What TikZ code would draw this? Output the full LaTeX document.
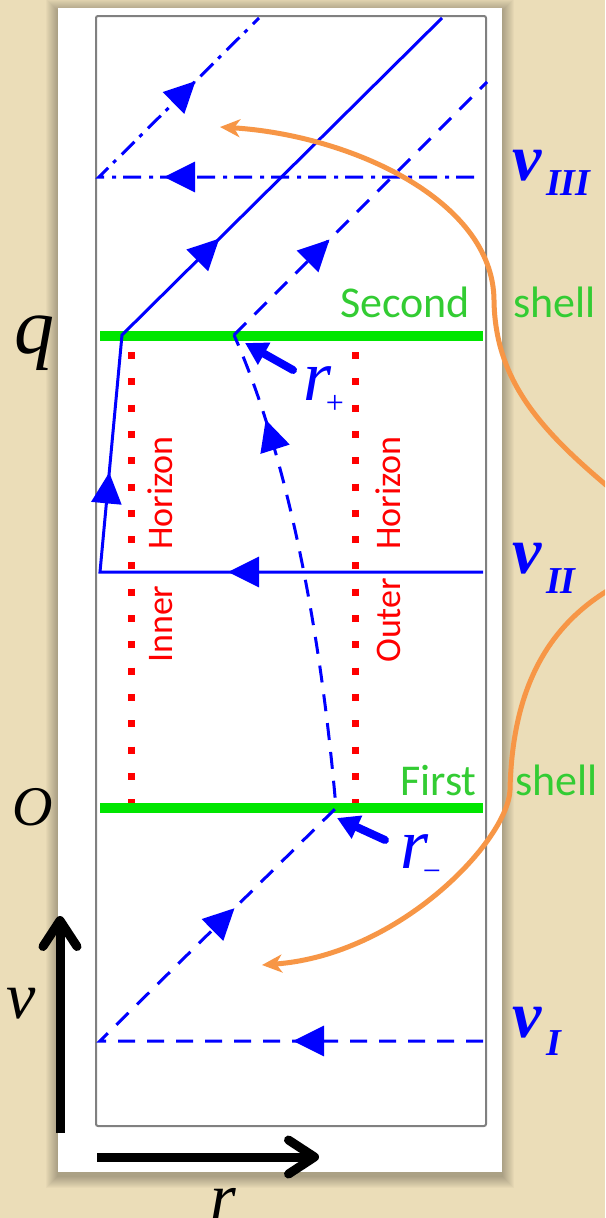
\documentclass[tikz,border=0pt]{standalone}
\usepackage{fontspec}
\setmainfont{Liberation Serif}
\newfontfamily\tnr{Liberation Serif}
\newfontfamily\carl{Carlito}
\usetikzlibrary{arrows.meta,decorations.markings}
\definecolor{parch}{RGB}{235,221,184}
\definecolor{bl}{RGB}{0,0,255}
\definecolor{gr}{RGB}{0,230,0}
\definecolor{grtext}{RGB}{51,204,51}
\definecolor{orng}{RGB}{247,150,70}
\definecolor{bord}{RGB}{128,128,128}
\tikzset{Tri/.tip={Triangle[length=31pt,width=30pt]}}
\begin{document}
\begin{tikzpicture}[x=1pt,y=-1pt,
  wl/.style={draw=bl, line width=3pt},
  dashl/.style={wl, dash pattern=on 17pt off 12pt},
  ddl/.style={wl, dash pattern=on 18pt off 7pt on 4pt off 8pt},
  arr/.style={postaction={decorate, decoration={markings, mark=at position #1 with {\arrow{Tri}}}}},
  shellline/.style={draw=gr, line width=10pt},
  hor/.style={draw=red, line width=7pt, dash pattern=on 7pt off 19.3pt},
  greentxt/.style={anchor=base west, inner sep=0pt, text=grtext, font=\carl\fontsize{44}{44}\selectfont},
  redtxt/.style={rotate=90, anchor=base west, inner sep=0pt, text=red, font=\carl\fontsize{36}{36}\selectfont},
  vbig/.style={anchor=base west, inner sep=0pt, text=bl, font=\tnr\bfseries\itshape\fontsize{66}{66}\selectfont},
  vsub/.style={anchor=base west, inner sep=0pt, text=bl, font=\tnr\bfseries\itshape\fontsize{38}{38}\selectfont},
  mathlbl/.style={anchor=base west, inner sep=0pt, font=\tnr\itshape\fontsize{#1}{#1}\selectfont},
  rlbl/.style={anchor=base west, inner sep=0pt, text=bl, font=\tnr\itshape\fontsize{72}{72}\selectfont},
  rsub/.style={inner sep=0pt, text=bl, font=\tnr\fontsize{32}{32}\selectfont},
  pointer/.style={draw=bl, line width=8pt, line cap=round, -{Triangle[length=22pt,width=24pt]}},
  axis/.style={draw=black, line width=9pt, -{Straight Barb[length=26pt,width=34pt,line cap=round,line join=round]}},
  orarrow/.style={draw=orng, line width=5pt, -{Stealth[length=20pt,width=18pt,inset=6pt]}}
]
\useasboundingbox (0,0) rectangle (605,1218);
\clip (0,0) rectangle (605,1218);
% background
\fill[parch] (0,0) rectangle (605,1218);
\foreach \i in {1,...,12}
  \fill[black, opacity=0.022] ({58-\i},{11-\i}) rectangle ({502+\i},{1176+\i});
\fill[white] (58,8) rectangle (502,1172);
\draw[bord, line width=2pt, rounded corners=2pt] (96,16) rectangle (486,1126);

% coordinates
\coordinate (A3r) at (474,177);
\coordinate (A3l) at (99,177);
\coordinate (A3t) at (259,18);
\coordinate (S2l) at (122,335);
\coordinate (S2p) at (234,335);
\coordinate (T1) at (442,18);
\coordinate (T2) at (487,82);
\coordinate (B2r) at (483,572);
\coordinate (B2l) at (100,572);
\coordinate (B1r) at (483,1041);
\coordinate (B1l) at (100,1041);
\coordinate (S1p) at (336,808);

% horizons
\draw[hor] (131,352) -- (131,812);
\draw[hor] (355,352) -- (355,812);

% shells
\draw[shellline] (100,335.5) -- (483,335.5);
\draw[shellline] (100,808) -- (483,808);

% null rays
\draw[ddl, arr=310pt, arr=511pt] (A3r) -- (A3l) -- (A3t);
\draw[wl, line join=miter, arr=255pt, arr=483pt, arr=758pt] (B2r) -- (B2l) -- (S2l) -- (T1);
\draw[dashl, arr=190pt, arr=572pt, arr=1110pt] (B1r) -- (B1l) -- (S1p) .. controls (320,620) and (285,450) .. (S2p);
\draw[dashl, arr=135pt] (S2p) -- (T2);

% texts
\node[greentxt] (sec) at (340,317) {Second};
\node[greentxt] (sh2) at (513,317) {shell};
\node[greentxt] (fir) at (400,795) {First};
\node[greentxt] (sh1) at (515,795) {shell};
\node[redtxt] (hz1) at (172,550) {Horizon};
\node[redtxt] (inn) at (172,663) {Inner};
\node[redtxt] (hz2) at (400,550) {Horizon};
\node[redtxt] (out) at (400,663) {Outer};

\node[vbig] (v3) at (512,180) {v};
\node[vsub] (v3s) at (546,195) {III};
\node[vbig] (v2) at (512,573) {v};
\node[vsub] (v2s) at (546,593) {II};
\node[vbig] (v1) at (512,1037) {v};
\node[vsub] (v1s) at (546,1055) {I};

\node[mathlbl=80] (q) at (14,353) {q};
\node[mathlbl=56] (o) at (12,825) {O};
\node[mathlbl=66] (vax) at (6,1018) {v};
\node[mathlbl=66] (rax) at (210,1219) {r};

\node[rlbl] (rp) at (303,400) {r};
\node[rsub] (rps) at (335,404) {+};
\node[rlbl] (rm) at (400,868) {r};
\node[rsub] (rms) at (432,876) {−};

\coordinate (rpfrom) at (293,370);
\coordinate (rpto) at (245,343);
\coordinate (rmfrom) at (385,840);
\coordinate (rmto) at (337,818);
\draw[pointer] (rpfrom) -- (rpto);
\draw[pointer] (rmfrom) -- (rmto);

% axes
\coordinate (vax0) at (60,1133);
\coordinate (vax1) at (60,916);
\coordinate (rax0) at (97,1157);
\coordinate (rax1) at (319,1157);
\draw[axis] (vax0) -- (vax1);
\draw[axis] (rax0) -- (rax1);

% orange arrows
\coordinate (o1s) at (612,490);
\coordinate (o1m) at (494,300);
\coordinate (o1e) at (220,127);
\coordinate (o2s) at (612,588);
\coordinate (o2m) at (510,790);
\coordinate (o2e) at (262,965);
\draw[orarrow] (o1s) .. controls (540,430) and (495,380) .. (o1m) .. controls (493,200) and (350,135) .. (o1e);
\draw[orarrow] (o2s) .. controls (540,630) and (512,700) .. (o2m) .. controls (508,840) and (400,955) .. (o2e);
\end{tikzpicture}
\end{document}
